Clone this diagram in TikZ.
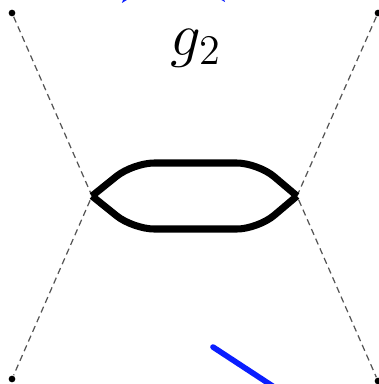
\documentclass[tikz,border=0pt]{standalone}
\usepackage{amsmath}
\usetikzlibrary{arrows.meta}
\definecolor{PropBlue}{HTML}{0A1EFF}
\definecolor{LegGray}{HTML}{555555}

\begin{document}
\begin{tikzpicture}[x=0.01cm, y=-0.01cm,
    ext/.style={circle, fill=black, inner sep=0pt, minimum size=1.9pt},
    leg/.style={LegGray, line width=0.35pt, dash pattern=on 1.8pt off 1.2pt},
    loopline/.style={black, line width=2pt, rounded corners=6pt},
    glue/.style={PropBlue, line width=1.6pt}]
  \useasboundingbox (0,0) rectangle (379,384);
  \clip (0,0) rectangle (379,384);

  % external points and the two vertices
  \node[ext] (tl) at (12,13) {};
  \node[ext] (tr) at (378,13) {};
  \node[ext] (bl) at (12,379) {};
  \node[ext] (br) at (378,381) {};
  \coordinate (vl) at (92,196);
  \coordinate (vr) at (297,196);

  \draw[leg] (tl)--(vl)--(bl);
  \draw[leg] (tr)--(vr)--(br);

  % the loop
  \draw[loopline] (vl)--(133,163)--(258,163)--(vr);
  \draw[loopline] (vl)--(133,229)--(258,229)--(vr);

  \node[font=\fontsize{18.5}{22}\selectfont, anchor=base] (lab) at (196,55) {$g_2$};

  % blue pieces cut by the frame
  \coordinate (bs) at (213,347);
  \coordinate (be) at (300,404);
  \draw[glue, line cap=round] (bs)--(be);
  \coordinate (al) at (121,4);
  \coordinate (ar) at (226,3);
  \draw[glue, {Latex[length=7pt,width=6pt]}-{Latex[length=7pt,width=6pt]}] (al) .. controls (150,-30) and (196,-30) .. (ar);
\end{tikzpicture}
\end{document}
